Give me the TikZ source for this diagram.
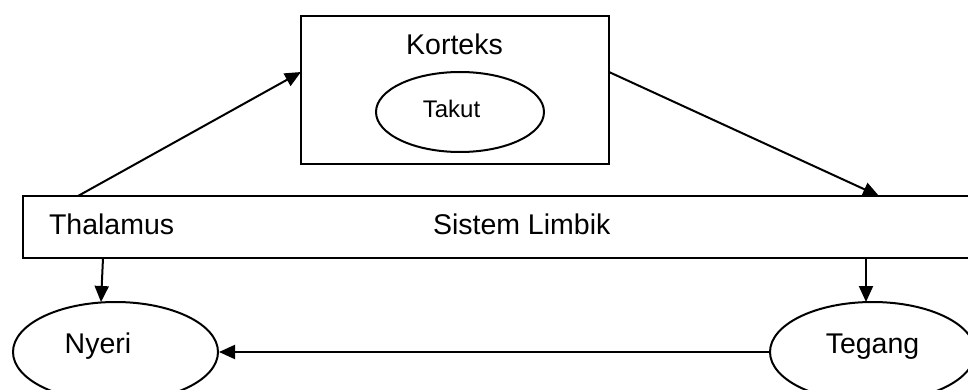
\documentclass[tikz,border=0pt]{standalone}
\usepackage{fontspec}
\setmainfont{Liberation Sans}
\usetikzlibrary{arrows.meta,shapes.geometric}
\begin{document}
\begin{tikzpicture}[x=1pt,y=-1pt,
  line width=2pt,
  box/.style={draw,rectangle,inner sep=0pt},
  oval/.style={draw,ellipse,inner sep=0pt},
  lbl/.style={inner sep=0pt,anchor=base,font=\fontsize{28.5}{34}\selectfont},
  slbl/.style={inner sep=0pt,anchor=base,font=\fontsize{24}{29}\selectfont},
  arr/.style={-{Triangle[length=16pt,width=14pt]},line width=2pt}]
\useasboundingbox (0,0) rectangle (968,390);
\clip (0,0) rectangle (968,390);
% Korteks box
\node[box,minimum width=308pt,minimum height=148pt] (kort) at (455,90) {};
\node[lbl] (kortt) at (454.5,55) {Korteks};
\node[oval,minimum width=168pt,minimum height=80pt] (takut) at (460,112) {};
\node[slbl] (takutt) at (451.5,118) {Takut};
% Limbic box
\node[box,minimum width=952pt,minimum height=62pt] (limb) at (499,227) {};
\node[lbl,anchor=base west] (thal) at (48,234) {Thalamus};
\node[lbl,anchor=base west] (sist) at (432,234) {Sistem Limbik};
% Ellipses
\node[oval,minimum width=205pt,minimum height=100pt] (nyeri) at (115.5,352) {};
\node[lbl] (nyerit) at (98,353) {Nyeri};
\node[oval,minimum width=205pt,minimum height=100pt] (tegang) at (872.5,352) {};
\node[lbl] (tegangt) at (872.5,353) {Tegang};
% connector ends
\coordinate (a1s) at (78,196);
\coordinate (a1e) at (301,72);
\coordinate (a2s) at (609,72);
\coordinate (a2e) at (879,196);
\coordinate (a3s) at (103,258);
\coordinate (a3e) at (101,302);
\coordinate (a4s) at (866,258);
\coordinate (a4e) at (866,302);
\draw[arr] (a1s) -- (a1e);
\draw[arr] (a2s) -- (a2e);
\draw[arr] (a3s) -- (a3e);
\draw[arr] (a4s) -- (a4e);
\draw[arr] (tegang.west) -- (nyeri.east);
\end{tikzpicture}
\end{document}
